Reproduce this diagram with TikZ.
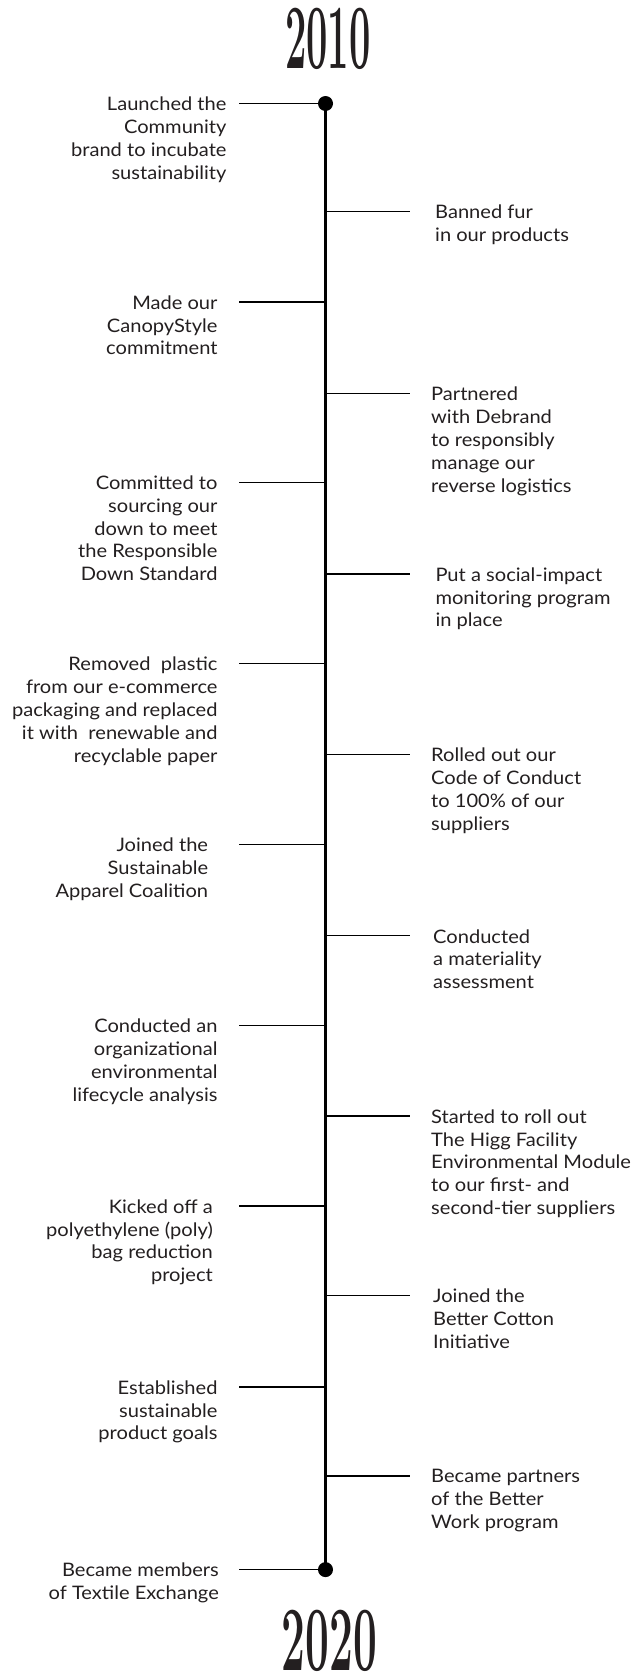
\documentclass[tikz,border=0pt]{standalone}
\usepackage{fontspec}
\usepackage{graphicx}
\newfontfamily\bodyfont[FakeStretch=1.08]{Lato}
\definecolor{txt}{HTML}{231F20}
\tikzset{
  spine/.style={line width=3.3pt, black},
  tick/.style={line width=1.3pt, black},
  dot/.style={circle, fill=black, inner sep=0pt, minimum size=15pt},
  ltext/.style={anchor=north east, align=right, inner sep=0pt, text=txt,
     font=\bodyfont\fontsize{18.6}{22.8}\selectfont, execute at begin node=\strut},
  rtext/.style={anchor=north west, align=left, inner sep=0pt, text=txt,
     font=\bodyfont\fontsize{18.6}{22.8}\selectfont, execute at begin node=\strut},
  year/.style={inner sep=0pt, anchor=base, text=txt, font=\fontsize{92}{92}\selectfont\bfseries}
}
\begin{document}
\begin{tikzpicture}[x=1pt,y=-1pt]
\useasboundingbox (0,0) rectangle (637,1673);
% years
\node[year] (y2010) at (327.8,68.3) {\scalebox{0.413}[1]{2010}};
\node[year] (y2020) at (329.2,1670.3) {\scalebox{0.46}[1]{2020}};
% spine
\node[dot] (top) at (325.5,103.5) {};
\node[dot] (bot) at (325.5,1569.6) {};
\draw[spine] (top.center) -- (bot.center);
% tick levels
\foreach \i/\yy/\side in {1/103.5/l,2/211.3/r,3/302/l,4/393.7/r,5/482.3/l,6/574/r,7/663.7/l,8/754.4/r,9/844.5/l,10/935.8/r,11/1025.4/l,12/1116.1/r,13/1206/l,14/1295.3/r,15/1387.1/l,16/1476/r,17/1569.6/l}{
  \coordinate (s\i) at (325.5,\yy);
  \if\side l
    \coordinate (e\i) at (239,\yy);
  \else
    \coordinate (e\i) at (410,\yy);
  \fi
  \draw[tick] (s\i) -- (e\i);
}
% texts
\begin{scope}[yshift=-3pt]
\node[ltext] (t1) at (226.7,93.8) {Launched the\\Community\\brand to incubate\\sustainability};
\node[rtext] (t2) at (435,201.6) {Banned fur\\in our products};
\node[ltext] (t3) at (217.7,292.3) {Made our\\CanopyStyle\\commitment};
\node[rtext] (t4) at (431,384) {Partnered\\with Debrand\\to responsibly\\manage our\\reverse logistics};
\node[ltext] (t5) at (217.7,472.6) {Committed to\\sourcing our\\down to meet\\the Responsible\\Down Standard};
\node[rtext] (t6) at (435.3,564.3) {Put a social-impact\\monitoring program\\in place};
\node[ltext] (t7) at (217.7,654) {Removed\ \ plastic\\from our e-commerce\\packaging and replaced\\it with\ \ renewable and\\recyclable paper};
\node[rtext] (t8) at (431,744.7) {Rolled out our\\Code of Conduct\\to 100\% of our\\suppliers};
\node[ltext] (t9) at (208.3,834.8) {Joined the\\Sustainable\\Apparel Coalition};
\node[rtext] (t10) at (433,926.1) {Conducted\\a materiality\\assessment};
\node[ltext] (t11) at (217.7,1015.7) {Conducted an\\organizational\\environmental\\lifecycle analysis};
\node[rtext] (t12) at (431,1106.4) {Started to roll out\\The Higg Facility\\Environmental Module\\to our first- and\\second-tier suppliers};
\node[ltext] (t13) at (213,1196.3) {Kicked off a\\polyethylene (poly)\\bag reduction\\project};
\node[rtext] (t14) at (433,1285.6) {Joined the\\Better Cotton\\Initiative};
\node[ltext] (t15) at (217.7,1377.4) {Established\\sustainable\\product goals};
\node[rtext] (t16) at (431,1466.3) {Became partners\\of the Better\\Work program};
\node[ltext] (t17) at (219,1559.9) {Became members\\of Textile Exchange};
\end{scope}
\end{tikzpicture}
\end{document}
